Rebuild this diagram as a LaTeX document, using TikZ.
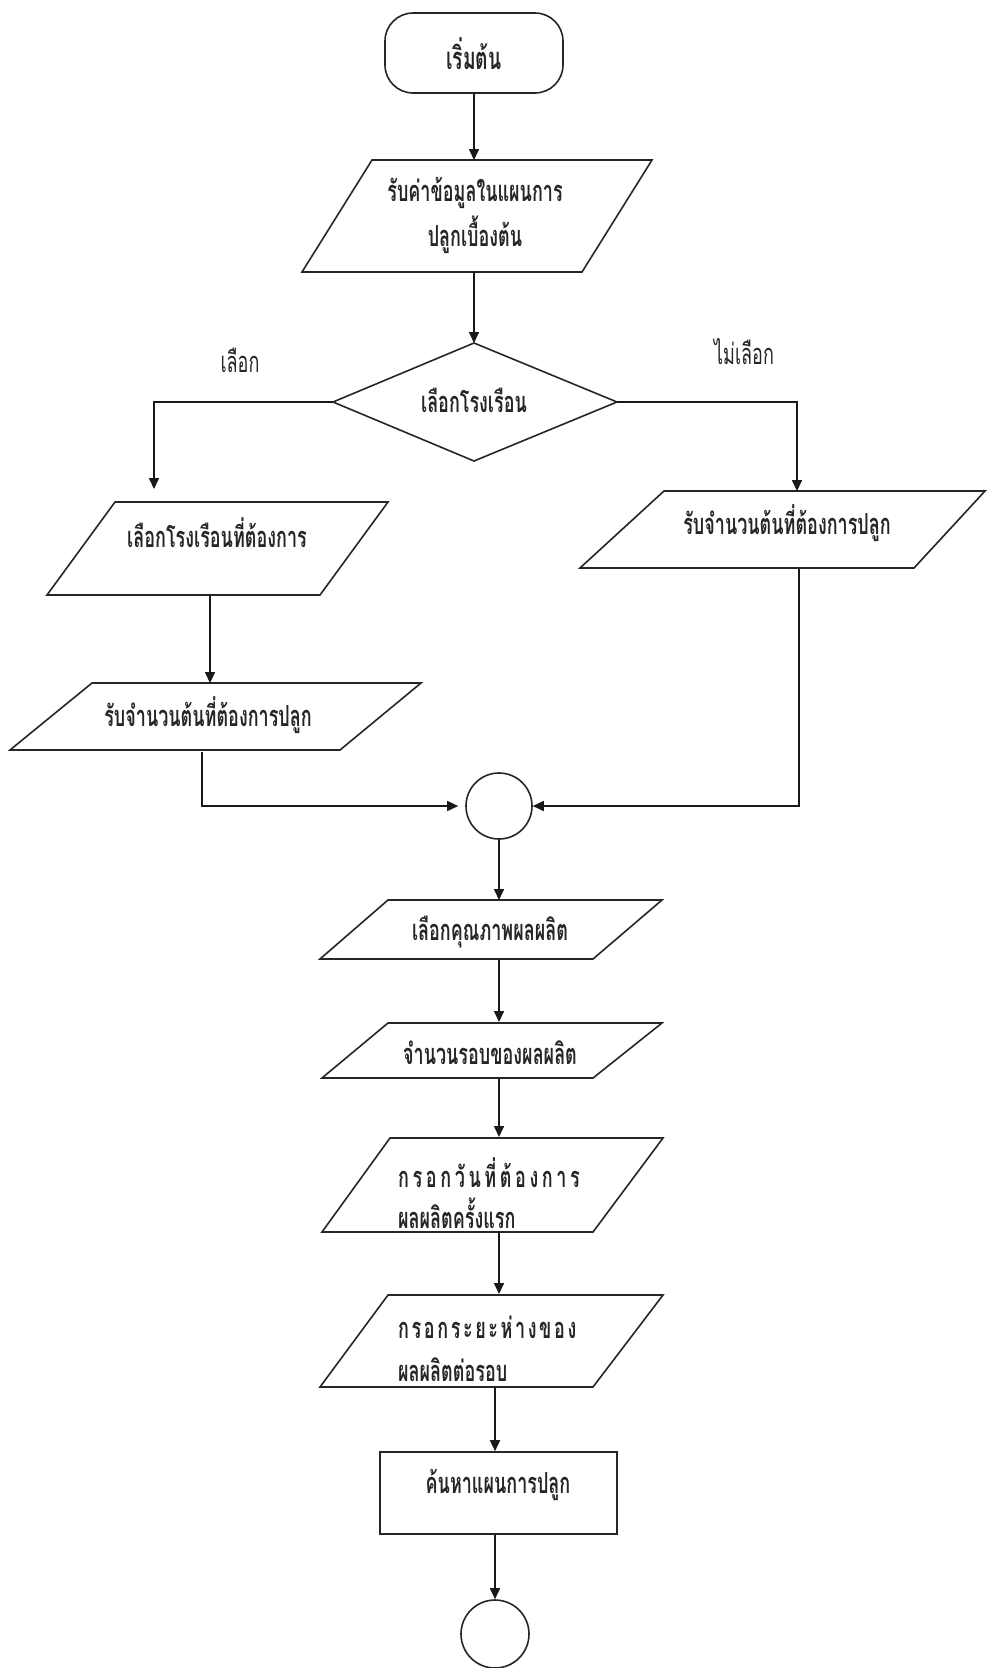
\documentclass[tikz,border=0pt]{standalone}
\usepackage{fontspec}
\newfontfamily\thai[Script=Thai,FakeStretch=0.62]{Loma}
\usetikzlibrary{arrows.meta}
\newcommand{\gpa}{\hspace{3.6pt}}
\newcommand{\gpb}{\hspace{2.6pt}}
\begin{document}
\begin{tikzpicture}[x=1pt,y=-1pt]
\tikzset{
  shp/.style={draw=black!85, line width=1.6pt, fill=white, line join=miter},
  conn/.style={draw=black!90, line width=1.6pt, -{Triangle[length=11pt,width=10pt]}},
  txt/.style={font=\thai\bfseries\fontsize{29}{32}\selectfont, inner sep=0pt, text=black!85},
  ltxt/.style={txt, anchor=west},
}
\fill[white] (0,0) rectangle (987,1668);
\useasboundingbox (0,0) rectangle (987,1668);

% start
\node[shp, rounded corners=28pt, minimum width=178pt, minimum height=80pt, inner sep=0pt] (start) at (474,53) {};
\node[txt, font=\thai\bfseries\fontsize{31}{34}\selectfont] (starttxt) at (474,54) {เริ่มต้น};

% P1
\draw[shp] (372,160) -- (652,160) -- (582,272) -- (302,272) -- cycle;
\coordinate (p1top) at (474,160);
\coordinate (p1bot) at (474,272);
\node[txt] (p1a) at (475,193) {รับค่าข้อมูลในแผนการ};
\node[txt] (p1b) at (475,235) {ปลูกเบื้องต้น};

% decision
\draw[shp] (474,343) -- (617,402) -- (474,461) -- (333,402) -- cycle;
\coordinate (dtop) at (474,343);
\coordinate (dleft) at (333,402);
\coordinate (dright) at (617,402);
\node[txt] (dec) at (474,400) {เลือกโรงเรือน};
\node[txt, font=\thai\fontsize{29}{32}\selectfont] (yes) at (240,360) {เลือก};
\node[txt, font=\thai\fontsize{29}{32}\selectfont] (no) at (744,352) {ไม่เลือก};

% left branch
\draw[shp] (115,502) -- (388,502) -- (320,595) -- (47,595) -- cycle;
\coordinate (pAin) at (154,489);
\coordinate (pAout) at (210,595);
\node[txt] (pA) at (217,533) {เลือกโรงเรือนที่ต้องการ};

\draw[shp] (92,683) -- (421,683) -- (340,750) -- (10,750) -- cycle;
\coordinate (pBin) at (210,683);
\coordinate (pBout) at (202,752);
\node[txt] (pB) at (208,715) {รับจำนวนต้นที่ต้องการปลูก};

% right branch
\draw[shp] (664,491) -- (985,491) -- (914,568) -- (580,568) -- cycle;
\coordinate (pCin) at (797,491);
\coordinate (pCout) at (799,568);
\node[txt] (pC) at (787,523) {รับจำนวนต้นที่ต้องการปลูก};

% junction
\node[shp, circle, minimum size=66pt, inner sep=0pt] (j) at (499,806) {};

% lower column
\draw[shp] (388,900) -- (662,900) -- (593,959) -- (320,959) -- cycle;
\coordinate (p5in) at (499,900);
\coordinate (p5out) at (499,959);
\node[txt] (p5) at (490,932) {เลือกคุณภาพผลผลิต};

\draw[shp] (388,1023) -- (662,1023) -- (593,1078) -- (322,1078) -- cycle;
\coordinate (p6in) at (499,1022);
\coordinate (p6out) at (499,1078);
\node[txt] (p6) at (490,1053) {จำนวนรอบของผลผลิต};

\draw[shp] (390,1138) -- (663,1138) -- (593,1232) -- (322,1232) -- cycle;
\coordinate (p7in) at (499,1137);
\coordinate (p7out) at (499,1232);
\node[ltxt] (p7a) at (398,1173) {ก\gpa ร\gpa อ\gpa ก\gpa วั\gpa น\gpa ที่\gpa ต้\gpa อ\gpa ง\gpa ก\gpa า\gpa ร};
\node[ltxt] (p7b) at (398,1213) {ผลผลิตครั้งแรก};

\draw[shp] (388,1295) -- (663,1295) -- (593,1387) -- (320,1387) -- cycle;
\coordinate (p8in) at (499,1294);
\coordinate (p8out) at (495,1387);
\node[ltxt] (p8a) at (398,1327) {ก\gpb ร\gpb อ\gpb ก\gpb ร\gpb ะ\gpb ย\gpb ะ\gpb ห่\gpb า\gpb ง\gpb ข\gpb อ\gpb ง};
\node[ltxt] (p8b) at (398,1370) {ผลผลิตต่อรอบ};

\node[shp, minimum width=237pt, minimum height=82pt, inner sep=0pt] (proc) at (498.5,1493) {};
\node[txt] (proctxt) at (498,1485) {ค้นหาแผนการปลูก};

\node[shp, circle, minimum size=68pt, inner sep=0pt] (endc) at (495,1634) {};

% connectors
\draw[conn] (start.south) -- (p1top);
\draw[conn] (p1bot) -- (dtop);
\draw[conn] (dleft) -| (pAin);
\draw[conn] (dright) -| (pCin);
\draw[conn] (pAout) -- (pBin);
\draw[conn, shorten >=7pt] (pBout) |- (j.west);
\draw[conn] (pCout) |- (j.east);
\draw[conn] (j.south) -- (p5in);
\draw[conn] (p5out) -- (p6in);
\draw[conn] (p6out) -- (p7in);
\draw[conn] (p7out) -- (p8in);
\draw[conn] (p8out) -- (proc.north -| p8out);
\draw[conn] (proc.south -| p8out) -- (endc.north);
\end{tikzpicture}
\end{document}
